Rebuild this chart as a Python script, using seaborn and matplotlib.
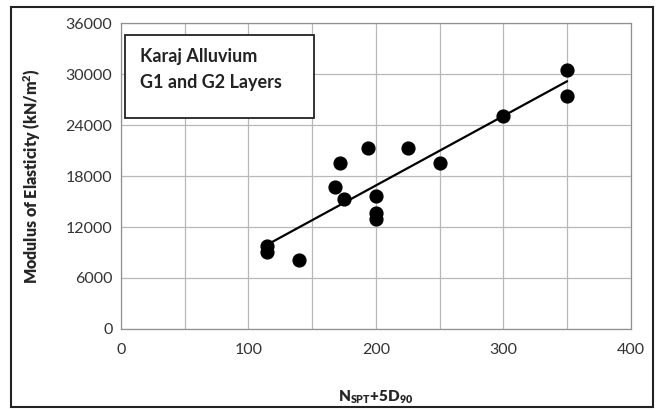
import seaborn as sns
import matplotlib.pyplot as plt
import matplotlib.patches as patches
import pandas as pd
import numpy as np

# N_SPT + 5 D90 vs modulus of elasticity (kN/m2)
n_spt_5d90 = [350, 350, 300, 194, 225, 172, 250, 168, 175, 200, 200, 200, 115, 115, 140]
modulus = [30500, 27500, 25100, 21300, 21300, 19600, 19600, 16700, 15250, 15650, 13700, 13000, 9800, 9000, 8100]
x_ticks = [0, 100, 200, 300, 400]
y_ticks = [0, 6000, 12000, 18000, 24000, 30000, 36000]
box_lines = ['Karaj Alluvium', 'G1 and G2 Layers']

df = pd.DataFrame({'x': n_spt_5d90, 'E': modulus})

sns.set_style('white')
plt.rcParams['font.family'] = ['Lato', 'DejaVu Sans']

fig = plt.figure(figsize=(6.6, 4.11), dpi=100)
ax = fig.add_axes([0.183, 0.2, 0.773, 0.743])

sns.regplot(data=df, x='x', y='E', ax=ax, ci=None, truncate=True,
            scatter_kws={'s': 85, 'color': 'black', 'edgecolor': 'black', 'alpha': 1, 'zorder': 3},
            line_kws={'color': 'black', 'lw': 1.6, 'zorder': 4})

ax.set_xlim(0, 400)
ax.set_ylim(0, 36000)
ax.set_xticks(x_ticks)
ax.set_xticks(np.arange(0, 401, 50), minor=True)
ax.set_yticks(y_ticks)
ax.set_xticklabels([str(t) for t in x_ticks])
ax.set_yticklabels([str(t) for t in y_ticks])
ax.grid(True, which='both', color='#b8b8b8', lw=0.9)
ax.set_axisbelow(True)
for s in ax.spines.values():
    s.set_color('#909090')
    s.set_linewidth(0.9)
ax.tick_params(axis='both', which='major', length=5, width=0.8, color='#909090',
               labelsize=11.5, labelcolor='#333333', direction='inout')
ax.tick_params(axis='x', which='major', pad=8)
ax.tick_params(axis='x', which='minor', length=0)

ax.set_xlabel('N$_{\\mathregular{SPT}}$+5D$_{\\mathregular{90}}$', fontsize=11, fontweight='heavy', labelpad=22)
ax.set_ylabel('Modulus of Elasticity (kN/m$^{\\mathregular{2}}$)', fontsize=11.5, fontweight='heavy', labelpad=16)

# text box top left
ax.add_patch(patches.Rectangle((3.4, 24900), 148.2, 9770, fill=True, facecolor='white',
                               edgecolor='#222222', lw=1.3, zorder=5))
ax.text(15, 32150, box_lines[0], fontsize=13, fontweight='bold', va='center', zorder=6, color='#222222')
ax.text(15, 29020, box_lines[1], fontsize=13, fontweight='bold', va='center', zorder=6, color='#222222')

# outer frame
fig.patches.append(patches.Rectangle((0.0167, 0.0097), 0.972, 0.973, transform=fig.transFigure,
                                     fill=False, edgecolor='#222222', lw=1.5))

fig.savefig('out.png', dpi=100)
